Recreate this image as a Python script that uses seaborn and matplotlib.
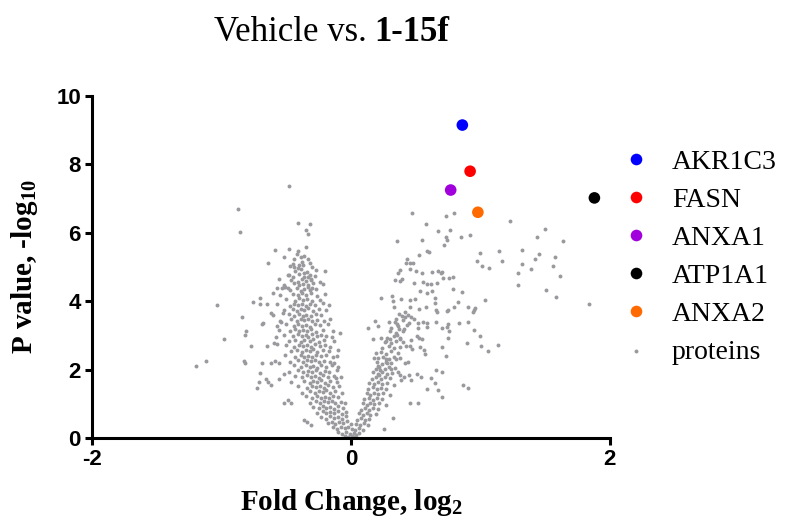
import matplotlib
matplotlib.use("Agg")
import matplotlib.pyplot as plt
import seaborn as sns
import pandas as pd

# highlighted proteins (log2 fold change, -log10 p)
genes = ["AKR1C3", "FASN", "ANXA1", "ATP1A1", "ANXA2"]
gene_fc = [0.86, 0.92, 0.77, 1.88, 0.98]
gene_p = [9.15, 7.80, 7.25, 7.02, 6.60]
gene_colors = ["#0000FF", "#FF0000", "#A100DC", "#000000", "#FF6A00"]

# all other proteins (fc, -log10 p)
left_sparse = [
    (-0.48, 7.38), (-0.875, 6.69), (-0.857, 6.02), (-0.41, 6.28), (-0.317, 6.27), (-0.35, 6.08),
    (-0.335, 5.95), (-0.35, 5.58), (-0.59, 5.49), (-0.48, 5.52), (-0.52, 5.30), (-0.64, 5.12),
    (-0.20, 4.87), (-1.035, 3.88), (-0.978, 2.89), (-1.12, 2.25), (-1.2, 2.11), (-0.844, 3.54),
    (-0.81, 3.12), (-0.82, 3.02), (-0.83, 2.26), (-0.82, 2.20), (-0.757, 3.98), (-0.70, 4.08),
    (-0.70, 3.92), (-0.65, 3.92), (-0.687, 3.34), (-0.677, 3.37), (-0.77, 2.68), (-0.65, 2.69),
    (-0.728, 1.45), (-0.71, 1.63), (-0.70, 1.89), (-0.66, 1.72), (-0.64, 1.65), (-0.615, 1.56),
    (-0.69, 2.2), (-0.574, 4.38), (-0.53, 4.38), (-0.507, 4.41), (-0.489, 4.39), (-0.553, 4.65),
    (-0.605, 4.23), (-0.618, 3.65), (-0.605, 3.60), (-0.527, 3.65), (-0.54, 3.40), (-0.574, 3.28),
    (-0.553, 3.16), (-0.58, 2.96), (-0.597, 2.77), (-0.571, 2.75), (-0.618, 2.20), (-0.587, 2.26),
    (-0.553, 2.18), (-0.553, 1.73), (-0.52, 1.87), (-0.52, 1.03), (-0.489, 1.11), (-0.463, 1.01),
    (-0.365, 0.53), (-0.34, 0.48), (-0.309, 0.38), (-0.083, 3.08), (-0.103, 2.57), (-0.149, 2.96),
    (-0.11, 2.4), (-0.13, 2.2), (-0.108, 1.99), (-0.116, 1.75), (-0.41, 5.47), (-0.39, 5.28),
    (-0.45, 5.10), (-0.44, 5.01), (-0.40, 5.06), (-0.32, 5.11), (-0.476, 4.77), (-0.36, 4.82),
    (-0.335, 4.72), (-0.31, 4.64), (-0.515, 4.42), (-0.335, 4.42), (-0.30, 4.38),
]

left_core = [
    (-0.42, 5.38), (-0.36, 5.33), (-0.44, 5.22), (-0.38, 5.16), (-0.33, 5.24),
    (-0.47, 5.03), (-0.41, 4.97), (-0.37, 5.05), (-0.30, 4.99), (-0.43, 4.88), (-0.39, 4.93),
    (-0.34, 4.86), (-0.27, 4.91), (-0.49, 4.77), (-0.45, 4.72), (-0.40, 4.79), (-0.36, 4.70),
    (-0.32, 4.76), (-0.28, 4.73), (-0.46, 4.62), (-0.41, 4.57), (-0.38, 4.64), (-0.35, 4.58),
    (-0.31, 4.61), (-0.24, 4.56), (-0.52, 4.48), (-0.44, 4.52), (-0.40, 4.46), (-0.37, 4.51),
    (-0.33, 4.47), (-0.29, 4.53), (-0.22, 4.49), (-0.47, 4.33), (-0.42, 4.38), (-0.39, 4.31),
    (-0.36, 4.36), (-0.32, 4.32), (-0.27, 4.37), (-0.55, 4.18), (-0.45, 4.22), (-0.41, 4.17),
    (-0.38, 4.23), (-0.35, 4.19), (-0.31, 4.24), (-0.26, 4.16), (-0.20, 4.21), (-0.50, 4.07),
    (-0.43, 4.02), (-0.40, 4.08), (-0.37, 4.03), (-0.34, 4.06), (-0.30, 4.01), (-0.24, 4.04),
    (-0.57, 3.92), (-0.47, 3.87), (-0.44, 3.93), (-0.41, 3.88), (-0.38, 3.91), (-0.35, 3.86),
    (-0.32, 3.92), (-0.28, 3.89), (-0.22, 3.94), (-0.17, 3.88), (-0.52, 3.73), (-0.45, 3.78),
    (-0.42, 3.72), (-0.39, 3.77), (-0.36, 3.74), (-0.33, 3.79), (-0.29, 3.71), (-0.25, 3.76),
    (-0.19, 3.73), (-0.48, 3.62), (-0.44, 3.57), (-0.40, 3.63), (-0.37, 3.58), (-0.35, 3.61),
    (-0.31, 3.56), (-0.27, 3.62), (-0.23, 3.59), (-0.55, 3.43), (-0.46, 3.48), (-0.42, 3.42),
    (-0.39, 3.47), (-0.36, 3.44), (-0.33, 3.49), (-0.30, 3.41), (-0.26, 3.46), (-0.21, 3.43),
    (-0.16, 3.47), (-0.50, 3.32), (-0.44, 3.27), (-0.41, 3.33), (-0.38, 3.28), (-0.35, 3.31),
    (-0.32, 3.26), (-0.28, 3.32), (-0.24, 3.29), (-0.18, 3.33), (-0.47, 3.13), (-0.43, 3.18),
    (-0.40, 3.12), (-0.37, 3.17), (-0.34, 3.14), (-0.31, 3.19), (-0.27, 3.11), (-0.22, 3.16),
    (-0.14, 3.13), (-0.52, 3.02), (-0.45, 2.97), (-0.41, 3.03), (-0.38, 2.98), (-0.35, 3.01),
    (-0.33, 2.96), (-0.30, 3.04), (-0.26, 2.99), (-0.23, 3.02), (-0.19, 2.97), (-0.48, 2.83),
    (-0.43, 2.88), (-0.39, 2.82), (-0.36, 2.87), (-0.32, 2.84), (-0.29, 2.89), (-0.25, 2.81),
    (-0.21, 2.86), (-0.13, 2.83), (-0.50, 2.72), (-0.44, 2.67), (-0.40, 2.73), (-0.37, 2.68),
    (-0.34, 2.71), (-0.31, 2.66), (-0.28, 2.74), (-0.24, 2.69), (-0.20, 2.72), (-0.16, 2.67),
    (-0.46, 2.53), (-0.42, 2.58), (-0.38, 2.52), (-0.35, 2.57), (-0.32, 2.54), (-0.29, 2.59),
    (-0.26, 2.51), (-0.22, 2.56), (-0.17, 2.53), (-0.51, 2.42), (-0.43, 2.37), (-0.39, 2.43),
    (-0.36, 2.38), (-0.33, 2.41), (-0.30, 2.36), (-0.27, 2.44), (-0.23, 2.39), (-0.19, 2.42),
    (-0.14, 2.37), (-0.47, 2.23), (-0.41, 2.28), (-0.37, 2.22), (-0.34, 2.27), (-0.31, 2.24),
    (-0.28, 2.29), (-0.25, 2.21), (-0.21, 2.26), (-0.16, 2.23), (-0.44, 2.12), (-0.39, 2.07),
    (-0.35, 2.13), (-0.32, 2.08), (-0.29, 2.11), (-0.26, 2.06), (-0.23, 2.14), (-0.19, 2.09),
    (-0.15, 2.12), (-0.10, 2.07), (-0.48, 1.93), (-0.41, 1.98), (-0.37, 1.92), (-0.33, 1.97),
    (-0.30, 1.94), (-0.27, 1.99), (-0.24, 1.91), (-0.20, 1.96), (-0.17, 1.93), (-0.43, 1.82),
    (-0.38, 1.77), (-0.34, 1.83), (-0.31, 1.78), (-0.28, 1.81), (-0.25, 1.76), (-0.22, 1.84),
    (-0.18, 1.79), (-0.13, 1.82), (-0.08, 1.77), (-0.46, 1.63), (-0.36, 1.68), (-0.32, 1.62),
    (-0.29, 1.67), (-0.26, 1.64), (-0.23, 1.69), (-0.20, 1.61), (-0.16, 1.66), (-0.11, 1.63),
    (-0.41, 1.52), (-0.34, 1.47), (-0.30, 1.53), (-0.27, 1.48), (-0.24, 1.51), (-0.21, 1.46),
    (-0.18, 1.54), (-0.14, 1.49), (-0.09, 1.52), (-0.38, 1.33), (-0.32, 1.38), (-0.28, 1.32),
    (-0.25, 1.37), (-0.22, 1.34), (-0.19, 1.39), (-0.16, 1.31), (-0.12, 1.36), (-0.07, 1.33),
    (-0.35, 1.22), (-0.30, 1.17), (-0.26, 1.23), (-0.23, 1.18), (-0.20, 1.21), (-0.17, 1.16),
    (-0.14, 1.24), (-0.10, 1.19), (-0.32, 1.03), (-0.27, 1.08), (-0.24, 1.02), (-0.21, 1.07),
    (-0.18, 1.04), (-0.15, 1.09), (-0.12, 1.01), (-0.08, 1.06), (-0.05, 1.03), (-0.29, 0.92),
    (-0.25, 0.87), (-0.22, 0.93), (-0.19, 0.88), (-0.16, 0.91), (-0.13, 0.86), (-0.10, 0.94),
    (-0.06, 0.89), (-0.26, 0.73), (-0.22, 0.78), (-0.19, 0.72), (-0.16, 0.77), (-0.13, 0.74),
    (-0.10, 0.79), (-0.07, 0.71), (-0.04, 0.76), (-0.23, 0.62), (-0.19, 0.57), (-0.16, 0.63),
    (-0.13, 0.58), (-0.10, 0.61), (-0.07, 0.56), (-0.04, 0.64), (-0.18, 0.43), (-0.15, 0.48),
    (-0.12, 0.42), (-0.09, 0.47), (-0.06, 0.44), (-0.03, 0.49), (0.00, 0.41), (-0.14, 0.32),
    (-0.11, 0.27), (-0.08, 0.33), (-0.05, 0.28), (-0.02, 0.31), (0.01, 0.26), (-0.10, 0.17),
    (-0.07, 0.12), (-0.04, 0.18), (-0.01, 0.13), (0.02, 0.16), (-0.05, 0.06), (-0.02, 0.03),
    (0.01, 0.07), (0.03, 0.04),
]

right_core = [
    (0.04, 0.09), (0.06, 0.14), (0.03, 0.23), (0.06, 0.28), (0.09, 0.22), (0.04, 0.42),
    (0.07, 0.37), (0.10, 0.43), (0.13, 0.38), (0.05, 0.53), (0.08, 0.58), (0.11, 0.52),
    (0.14, 0.57), (0.06, 0.72), (0.09, 0.67), (0.12, 0.73), (0.15, 0.68), (0.19, 0.71),
    (0.08, 0.83), (0.11, 0.88), (0.14, 0.82), (0.17, 0.87), (0.21, 0.84), (0.09, 1.02),
    (0.12, 0.97), (0.15, 1.03), (0.18, 0.98), (0.22, 1.01), (0.27, 0.96), (0.10, 1.13),
    (0.14, 1.18), (0.17, 1.12), (0.20, 1.17), (0.24, 1.14), (0.12, 1.32), (0.15, 1.27),
    (0.18, 1.33), (0.21, 1.28), (0.25, 1.31), (0.30, 1.26), (0.13, 1.43), (0.17, 1.48),
    (0.20, 1.42), (0.23, 1.47), (0.27, 1.44), (0.14, 1.62), (0.18, 1.57), (0.21, 1.63),
    (0.24, 1.58), (0.28, 1.61), (0.33, 1.56), (0.16, 1.73), (0.19, 1.78), (0.23, 1.72),
    (0.26, 1.77), (0.30, 1.74), (0.17, 1.92), (0.21, 1.87), (0.24, 1.93), (0.28, 1.88),
    (0.32, 1.91), (0.19, 2.03), (0.22, 2.08), (0.26, 2.02), (0.29, 2.07), (0.34, 2.04),
    (0.20, 2.22), (0.24, 2.17), (0.27, 2.23), (0.31, 2.18), (0.21, 2.33), (0.25, 2.38),
    (0.29, 2.32), (0.33, 2.37), (0.23, 2.52), (0.27, 2.47), (0.31, 2.53), (0.36, 2.48),
    (0.24, 2.63), (0.29, 2.68), (0.33, 2.62), (0.38, 2.67), (0.26, 2.82), (0.31, 2.77),
    (0.35, 2.83), (0.28, 2.93), (0.33, 2.98), (0.38, 2.92), (0.30, 3.12), (0.35, 3.07),
    (0.40, 3.13), (0.31, 3.23), (0.36, 3.28), (0.35, 3.47), (0.40, 3.44), (0.37, 3.63),
    (0.42, 3.68),
]

right_sparse = [
    (0.731, 6.50), (0.798, 6.57), (1.228, 6.35), (0.764, 6.08), (0.734, 5.87), (0.739, 5.79),
    (0.718, 5.65), (0.852, 5.87), (0.921, 5.94), (1.50, 6.10), (1.434, 5.88), (1.64, 5.77),
    (1.0, 5.42), (1.14, 5.47), (1.318, 5.49), (1.449, 5.38), (1.423, 5.23), (1.578, 5.29),
    (0.973, 5.18), (1.009, 5.04), (1.068, 4.97), (1.163, 5.18), (1.323, 5.10), (1.388, 4.94),
    (1.56, 5.03), (1.292, 4.83), (1.616, 4.73), (1.29, 4.48), (1.503, 4.32), (1.583, 4.13),
    (1.835, 3.91), (0.705, 4.86), (0.708, 4.69), (0.757, 4.69), (0.785, 4.72), (0.788, 4.37),
    (0.857, 4.28), (1.037, 4.03), (0.829, 3.97), (0.793, 3.82), (0.746, 3.74), (0.739, 3.71),
    (0.906, 3.84), (0.96, 3.81), (0.952, 3.74), (0.944, 3.68), (0.834, 3.35), (0.901, 3.39),
    (0.752, 3.32), (0.741, 3.25), (0.70, 3.22), (0.757, 3.14), (0.95, 3.15), (0.999, 2.97),
    (0.747, 2.93), (0.893, 2.79), (1.006, 2.69), (1.138, 2.71), (1.056, 2.53), (0.70, 2.65),
    (0.734, 2.40), (0.705, 1.94), (0.469, 6.59), (0.582, 6.26), (0.674, 6.05), (0.355, 5.75),
    (0.548, 5.79), (0.584, 5.48), (0.602, 5.44), (0.525, 5.36), (0.435, 5.24), (0.458, 5.11),
    (0.422, 5.12), (0.479, 5.11), (0.378, 4.91), (0.365, 4.82), (0.456, 4.93), (0.504, 4.87),
    (0.546, 4.83), (0.623, 4.86), (0.672, 4.88), (0.695, 4.82), (0.342, 4.62), (0.376, 4.59),
    (0.391, 4.64), (0.489, 4.54), (0.553, 4.57), (0.587, 4.51), (0.615, 4.49), (0.664, 4.53),
    (0.53, 4.31), (0.589, 4.25), (0.623, 4.29), (0.234, 4.09), (0.317, 4.16), (0.324, 4.01),
    (0.332, 3.82), (0.389, 4.07), (0.456, 4.03), (0.497, 4.07), (0.456, 3.83), (0.646, 4.10),
    (0.649, 3.96), (0.659, 3.74), (0.662, 3.69), (0.579, 3.84), (0.528, 3.76), (0.188, 3.43),
    (0.129, 3.23), (0.206, 3.27), (0.291, 3.40), (0.391, 3.57), (0.415, 3.55), (0.443, 3.61),
    (0.463, 3.53), (0.484, 3.47), (0.515, 3.35), (0.45, 3.37), (0.432, 3.30), (0.337, 3.40),
    (0.355, 3.33), (0.558, 3.38), (0.589, 3.37), (0.659, 3.40), (0.407, 3.20), (0.371, 3.18),
    (0.52, 3.22), (0.584, 3.24), (0.172, 2.90), (0.232, 2.92), (0.268, 2.84), (0.303, 2.90),
    (0.357, 3.0), (0.376, 2.89), (0.402, 2.81), (0.425, 2.70), (0.461, 2.87), (0.512, 2.98),
    (0.525, 2.92), (0.546, 2.89), (0.453, 2.69), (0.474, 2.60), (0.535, 2.65), (0.561, 2.57),
    (0.569, 2.45), (0.195, 2.48), (0.175, 2.33), (0.268, 2.30), (0.278, 2.20), (0.347, 2.32),
    (0.376, 2.34), (0.417, 2.18), (0.443, 2.22), (0.206, 2.11), (0.226, 1.99), (0.219, 1.84),
    (0.309, 2.03), (0.36, 1.94), (0.376, 1.83), (0.389, 1.70), (0.412, 1.79), (0.45, 1.85),
    (0.463, 1.70), (0.51, 1.87), (0.541, 1.77), (0.618, 1.75), (0.659, 1.99), (0.584, 1.42),
    (0.669, 1.40), (0.70, 1.19), (0.649, 1.62), (0.865, 1.54), (0.901, 1.46), (0.456, 1.01),
    (0.52, 1.03), (0.324, 0.58), (0.252, 0.25),
]

proteins = pd.DataFrame(left_sparse + left_core + right_core + right_sparse, columns=["fc", "p"])
hits = pd.DataFrame({"gene": genes, "fc": gene_fc, "p": gene_p})

sns.set_style("ticks")
plt.rcParams["font.family"] = ["Liberation Serif", "DejaVu Serif"]
plt.rcParams["axes.unicode_minus"] = False
for key in ["text.color", "axes.labelcolor", "xtick.color", "ytick.color", "axes.edgecolor"]:
    plt.rcParams[key] = "black"

fig = plt.figure(figsize=(7.87, 5.23), dpi=100)
ax = fig.add_axes([0.117, 0.1625, 0.658, 0.654])

sns.scatterplot(data=proteins, x="fc", y="p", color="#9a9a9e", s=8, linewidth=0,
                label="proteins", ax=ax, zorder=2)
sns.scatterplot(data=hits, x="fc", y="p", hue="gene", hue_order=genes,
                palette=dict(zip(genes, gene_colors)), s=70, linewidth=0, ax=ax, zorder=3)

ax.set_xlim(-2, 2)
ax.set_ylim(0, 10)
ax.set_xticks([-2, 0, 2])
ax.set_yticks([0, 2, 4, 6, 8, 10])
sns.despine(ax=ax)
for sp in ["left", "bottom"]:
    ax.spines[sp].set_linewidth(2.2)
ax.tick_params(width=2.2, length=5, labelsize=16, pad=3)
for lab in ax.get_xticklabels() + ax.get_yticklabels():
    lab.set_fontfamily("Liberation Sans")
    lab.set_fontweight("bold")

ax.set_xlabel("Fold Change, log$\\mathregular{_2}$", fontsize=21, fontweight="bold", labelpad=12)
ax.set_ylabel("P value, -log$\\mathregular{_{10}}$", fontsize=21, fontweight="bold", labelpad=12)

fig.text(0.466, 0.938, "Vehicle vs.", ha="right", va="center", fontsize=25)
fig.text(0.475, 0.938, "1-15f", ha="left", va="center", fontsize=25, fontweight="bold")

handles, labels = ax.get_legend_handles_labels()
order = [labels.index(g) for g in genes] + [labels.index("proteins")]
ax.legend([handles[i] for i in order], [labels[i] for i in order],
          loc="upper left", bbox_to_anchor=(0.79, 0.714), bbox_transform=fig.transFigure,
          frameon=False, fontsize=20, handlelength=1.0, handletextpad=0.8,
          labelspacing=0.45, borderpad=0, borderaxespad=0, markerscale=1.0)

fig.savefig("out.png", dpi=100)
